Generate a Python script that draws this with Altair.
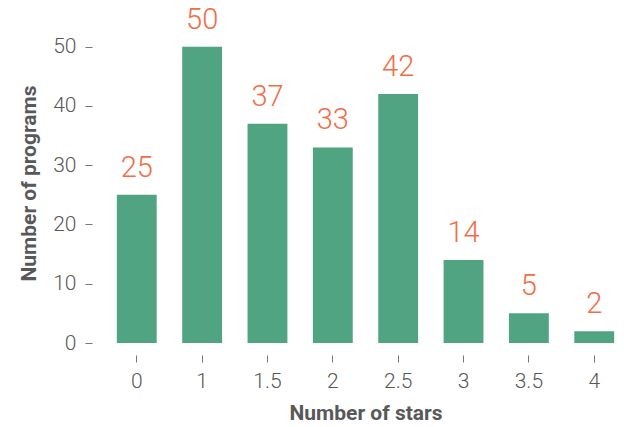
import altair as alt
import pandas as pd

stars = ["0", "1", "1.5", "2", "2.5", "3", "3.5", "4"]
programs = [25, 50, 37, 33, 42, 14, 5, 2]

df = pd.DataFrame({"stars": stars, "programs": programs})

FONT = "Roboto"
GRAY = "#58585a"

x = alt.X("stars:N", sort=stars, title="Number of stars",
          scale=alt.Scale(paddingInner=0.39, paddingOuter=0.12),
          axis=alt.Axis(labelAngle=0, domain=False, offset=12, tickSize=7,
                        tickColor="#777", labelPadding=8, titlePadding=11))
y = alt.Y("programs:Q", title="Number of programs",
          scale=alt.Scale(domain=[0, 54], nice=False),
          axis=alt.Axis(values=[0, 10, 20, 30, 40, 50], domain=False, grid=False,
                        offset=17, tickSize=7, tickColor="#777", labelPadding=9,
                        titlePadding=13))

bars = alt.Chart(df).mark_bar(color="#50a482").encode(x=x, y=y)
labels = alt.Chart(df).mark_text(baseline="bottom", dy=-12, fontSize=29,
                                 color="#f26d47", font=FONT, fontWeight=300).encode(
    x=alt.X("stars:N", sort=stars), y="programs:Q", text="programs:Q")

chart = (bars + labels).properties(
    width=513, height=320,
    autosize=alt.AutoSizeParams(type="none"),
    padding={"left": 109, "top": 23, "right": 2, "bottom": 84},
).configure_view(stroke=None).configure_axis(
    labelFont=FONT, titleFont=FONT, labelFontSize=21, titleFontSize=21,
    labelFontWeight=300,
    labelColor=GRAY, titleColor=GRAY, titleFontWeight="bold", grid=False,
)

chart.save("out.html", embed_options={"renderer": "svg", "actions": False})
